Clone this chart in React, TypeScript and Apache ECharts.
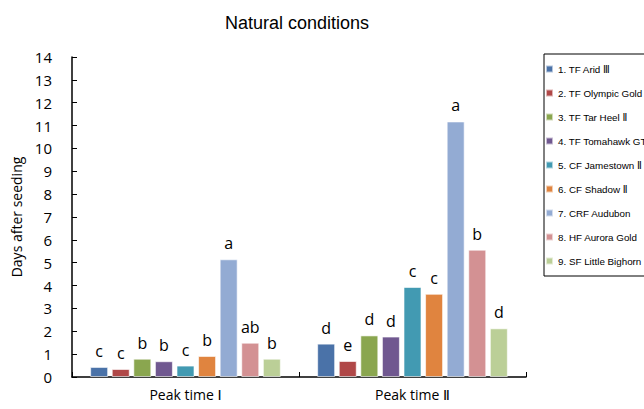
import React, { useEffect, useRef } from "react";
import * as echarts from "echarts";

const categories = ["Peak time Ⅰ", "Peak time Ⅱ"];
const seriesNames = [
  "1. TF Arid Ⅲ",
  "2. TF Olympic Gold",
  "3. TF Tar Heel Ⅱ",
  "4. TF Tomahawk GT",
  "5. CF Jamestown Ⅱ",
  "6. CF Shadow Ⅱ",
  "7. CRF Audubon",
  "8. HF Aurora Gold",
  "9. SF Little Bighorn",
];
const peak1 = [0.44, 0.35, 0.8, 0.69, 0.5, 0.92, 5.15, 1.5, 0.8];
const peak2 = [1.46, 0.7, 1.82, 1.77, 3.94, 3.64, 11.18, 5.57, 2.13];
const letters1 = ["c", "c", "b", "b", "c", "b", "a", "ab", "b"];
const letters2 = ["d", "e", "d", "d", "c", "c", "a", "b", "d"];
const colors = [
  "#4a72a8",
  "#b04848",
  "#8aa64f",
  "#705890",
  "#429ab2",
  "#e0843f",
  "#93abd3",
  "#d39193",
  "#bbcf97",
];
const yTicks = { min: 0, max: 14, interval: 1 };

export default function App() {
  const ref = useRef<HTMLDivElement>(null);
  useEffect(() => {
    if (!ref.current) return;
    const chart = echarts.init(ref.current, null, { renderer: "svg" });
    const font = "'Open Sans', 'Noto Sans', sans-serif";
    const xfont = "'Open Sans', 'DejaVu Sans', sans-serif";
    const lfont = "'Liberation Sans', 'DejaVu Sans', sans-serif";
    chart.setOption({
      animation: false,
      backgroundColor: "#ffffff",
      title: {
        text: "Natural conditions",
        left: 292,
        textAlign: "center",
        top: 9,
        textStyle: {
          fontFamily: "'Liberation Sans', Arial, sans-serif",
          fontSize: 18,
          fontWeight: "normal",
          color: "#000",
        },
      },
      legend: {
        orient: "vertical",
        left: 544,
        top: 54,
        data: seriesNames,
        icon: "rect",
        itemWidth: 7,
        itemHeight: 7,
        itemGap: 10,
        padding: [8, 20, 8, 1],
        borderColor: "#000",
        borderWidth: 1,
        selectedMode: false,
        textStyle: {
          fontFamily: lfont,
          fontSize: 9.8,
          lineHeight: 14,
          color: "#000",
        },
      },
      grid: { left: 72, right: 118, top: 57, bottom: 32 },
      xAxis: {
        type: "category",
        data: categories,
        axisLine: { lineStyle: { color: "#000", width: 1.5 } },
        axisTick: { show: true, inside: true, length: 5, lineStyle: { color: "#000" } },
        axisLabel: { fontFamily: xfont, fontSize: 14, color: "#000", margin: 10 },
      },
      yAxis: {
        type: "value",
        min: yTicks.min,
        max: yTicks.max,
        interval: yTicks.interval,
        name: "Days after seeding",
        nameLocation: "middle",
        nameGap: 42,
        nameTextStyle: { fontFamily: font, fontSize: 14, color: "#000" },
        axisLine: { show: true, lineStyle: { color: "#000", width: 1.5 } },
        axisTick: { show: true, inside: true, length: 5, lineStyle: { color: "#000" } },
        splitLine: { show: false },
        axisLabel: { fontFamily: font, fontSize: 15, color: "#000", margin: 20 },
      },
      series: seriesNames.map((name, i) => ({
        name,
        type: "bar",
        data: [peak1[i], peak2[i]],
        barGap: "20%",
        barCategoryGap: "16%",
        itemStyle: {
          color: colors[i],
          borderColor: "rgba(255,255,255,0.6)",
          borderWidth: 1,
        },
        label: {
          show: true,
          position: "top",
          distance: 8,
          fontFamily: font,
          fontSize: 16,
          color: "#000",
          formatter: (p: any) => (p.dataIndex === 0 ? letters1[i] : letters2[i]),
        },
      })),
    });
    return () => chart.dispose();
  }, []);
  return <div ref={ref} style={{ width: 644, height: 409, position: "absolute", left: 0, top: 0 }} />;
}
